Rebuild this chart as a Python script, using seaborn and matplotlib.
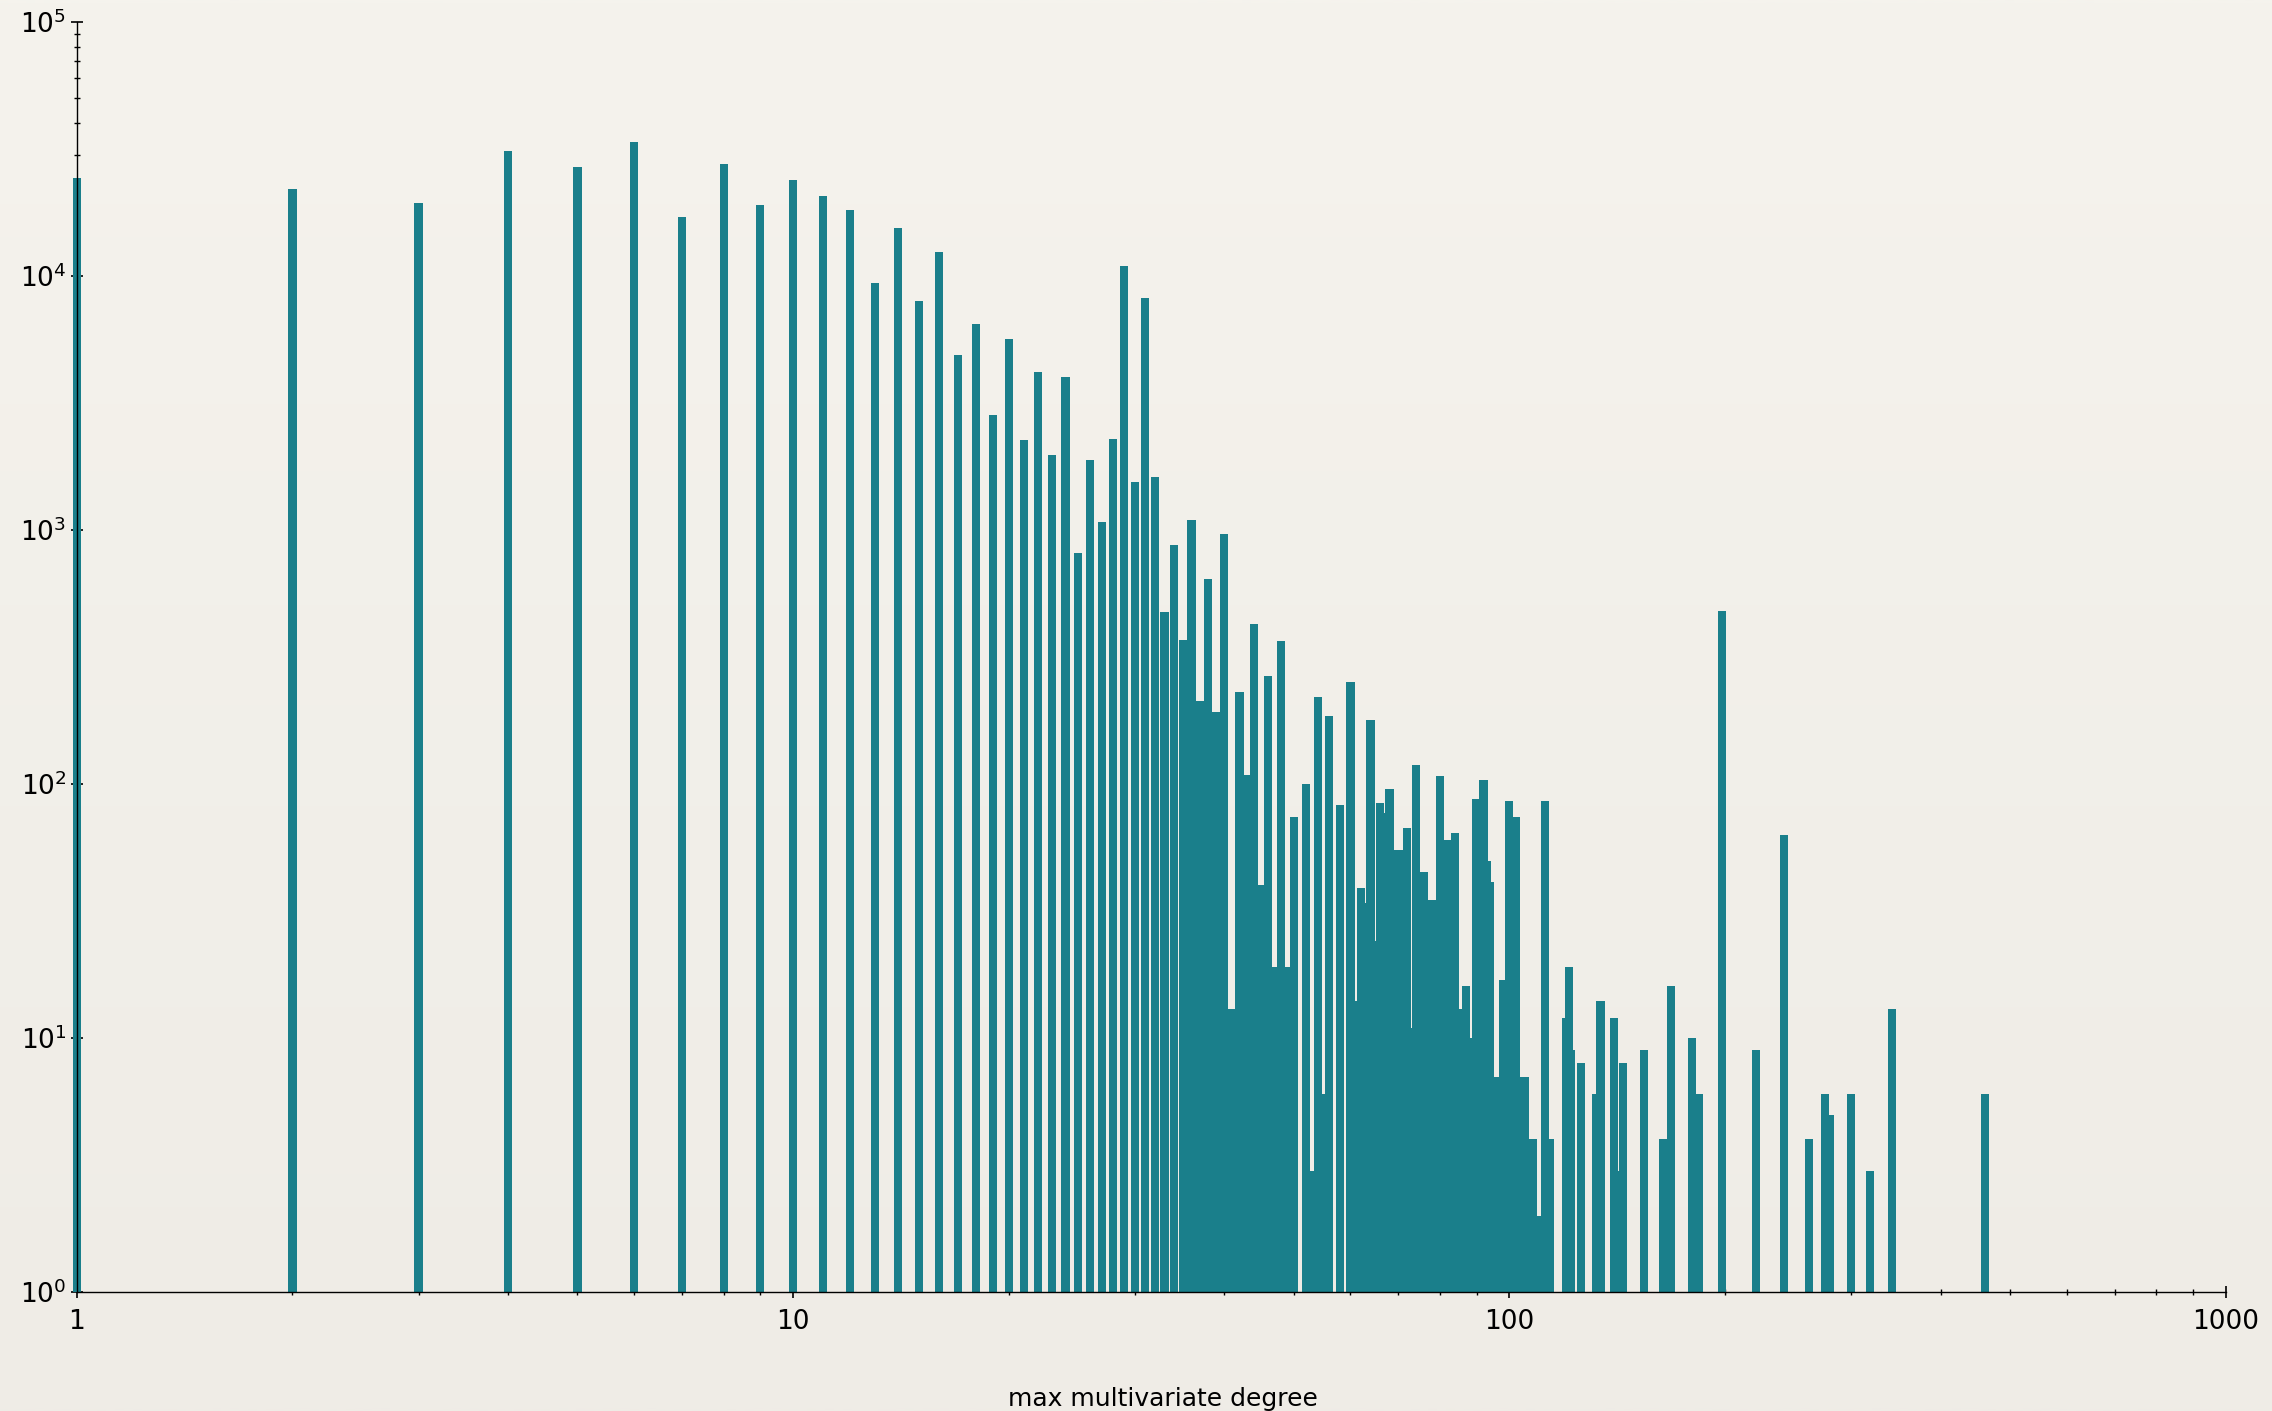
import numpy as np
import pandas as pd
import matplotlib
matplotlib.use("Agg")
import matplotlib.pyplot as plt
from matplotlib.ticker import FuncFormatter, NullFormatter
import seaborn as sns

# Number of cases for each value of the max multivariate degree
degree = [
    1, 2, 3, 4, 5, 6, 7, 8, 9, 10,
    11, 12, 13, 14, 15, 16, 17, 18, 19, 20,
    21, 22, 23, 24, 25, 26, 27, 28, 29, 30,
    31, 32, 33, 34, 35, 36, 37, 38, 39, 40,
    41, 42, 43, 44, 45, 46, 47, 48, 49, 50,
    52, 53, 54, 55, 56, 58, 60, 61, 62, 63,
    64, 65, 66, 67, 68, 69, 70, 72, 73, 74,
    76, 78, 80, 82, 84, 85, 87, 88, 90, 92,
    93, 94, 96, 98, 100, 102, 105, 108, 110, 112,
    114, 120, 121, 122, 126, 132, 134, 140, 142, 144,
    154, 164, 168, 180, 184, 198, 221, 242, 262, 276,
    280, 300, 319, 342, 461,
]
count = [
    24300, 22000, 19400, 31000, 26900, 33700, 17100, 27600, 19100, 23900,
    20700, 18200, 9400, 15500, 8000, 12400, 4900, 6500, 2840, 5650,
    2270, 4190, 1970, 4000, 815, 1890, 1075, 2280, 10950, 1545,
    8200, 1620, 475, 873, 369, 1100, 212, 642, 193, 965,
    13, 231, 109, 427, 40, 266, 19, 365, 19, 74,
    100, 3, 220, 6, 185, 83, 252, 14, 39, 34,
    178, 24, 84, 77, 96, 45, 55, 67, 11, 119,
    45, 35, 108, 60, 64, 13, 16, 10, 87, 104,
    50, 41, 7, 17, 86, 74, 7, 4, 2, 86,
    4, 12, 19, 9, 8, 6, 14, 12, 3, 8,
    9, 4, 16, 10, 6, 478, 9, 63, 4, 6,
    5, 6, 3, 13, 6,
]

x_ticks = [1, 10, 100, 1000]
x_label = "max multivariate degree"

BAR_COLOR = "#1a7f8b"
PAPER_TOP = np.array([245, 243, 237]) / 255
PAPER_BOTTOM = np.array([239, 236, 230]) / 255
BAR_DECADES = 0.0115  # bar width along the log10 axis
Y_MIN, Y_MAX = 1, 1e5
X_MIN, X_MAX = 1, 1000

sns.set_style("ticks")
plt.rcParams.update({
    "font.family": ["DejaVu Sans"],
    "axes.edgecolor": "black",
    "axes.linewidth": 1.0,
    "xtick.color": "black",
    "ytick.color": "black",
    "text.color": "black",
    "axes.labelcolor": "black",
})

fig = plt.figure(figsize=(22.72, 14.11), dpi=100)
fig.patch.set_facecolor(PAPER_TOP)

# soft paper tone behind everything
bg = fig.add_axes([0, 0, 1, 1], zorder=-10)
shade = np.linspace(0, 1, 256)[:, None, None]
bg.imshow(PAPER_TOP * (1 - shade) + PAPER_BOTTOM * shade, aspect="auto",
          extent=(0, 1, 0, 1), interpolation="bilinear")
bg.set_axis_off()

ax = fig.add_axes([0.0338, 0.0843, 0.9458, 0.9001])
ax.set_facecolor("none")

df = pd.DataFrame({"degree": degree, "count": count})
log_steps = np.diff(np.log10(np.unique(df["degree"])))
width = BAR_DECADES / log_steps.min()

sns.barplot(data=df, x="degree", y="count", native_scale=True,
            log_scale=(True, True), width=width, color=BAR_COLOR,
            saturation=1, errorbar=None, linewidth=0, ax=ax)

ax.set_xlim(X_MIN, X_MAX)
ax.set_ylim(Y_MIN, Y_MAX)

# bars rise from the axis floor; unclipped so the first bar straddles the spine
for p in ax.patches:
    top = p.get_y() + p.get_height()
    p.set_y(Y_MIN)
    p.set_height(top - Y_MIN)
    p.set_clip_on(False)

sns.despine(ax=ax)
ax.set_xticks(x_ticks)
ax.xaxis.set_major_formatter(FuncFormatter(lambda v, _: f"{v:g}"))
ax.xaxis.set_minor_formatter(NullFormatter())
ax.yaxis.set_minor_formatter(NullFormatter())

ax.tick_params(which="major", direction="inout", length=9, width=1.2,
               labelsize=19)
ax.tick_params(which="minor", direction="inout", length=5, width=1.0)
ax.tick_params(axis="x", which="major", pad=7.5)
ax.tick_params(axis="y", which="major", pad=3)

ax.set_xlabel(x_label, fontsize=18, va="baseline")
ax.xaxis.set_label_coords(0.5055, -0.0898)
ax.set_ylabel("")

fig.savefig("out.png", dpi=100, facecolor=fig.get_facecolor())
